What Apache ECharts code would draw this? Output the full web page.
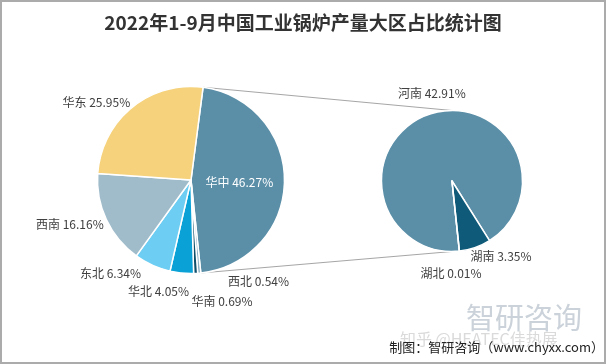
<!DOCTYPE html>
<html>
<head>
<meta charset="utf-8">
<script src="https://cdn.jsdelivr.net/npm/echarts@6/dist/echarts.min.js"></script>
<style>
html,body{margin:0;padding:0;background:#fff;}
#chart{width:606px;height:364px;}
</style>
</head>
<body>
<div id="chart"></div>
<script>
// ---- data ----
const chartTitle = '2022年1-9月中国工业锅炉产量大区占比统计图';
const regionNames = ['华中', '西北', '华南', '华北', '东北', '西南', '华东'];
const regionShares = [46.27, 0.54, 0.69, 4.05, 6.34, 16.16, 25.95];
const provinceNames = ['河南', '湖南', '湖北'];
const provinceShares = [42.91, 3.35, 0.01];
const sourceNote = '制图：智研咨询（www.chyxx.com）';

// ---- styles / layout ----
const regionColors = ['#5b8fa8', '#8fb2c4', '#0e4f6c', '#0aa2d6', '#6dcdf2', '#a0bccb', '#f5d27b'];
const provinceColors = ['#5b8fa8', '#0e5a78', '#7fb0c8'];
const LEFT = {cx: 191, cy: 180, r: 93.5, start: 82.6};
const RIGHT = {cx: 452, cy: 181, r: 70.5, start: -84};
// label anchor (left edge, vertical middle)
const LABEL_POS = [
  [[205.5, 182], [228, 281], [191.5, 301], [128, 291], [80, 273], [36, 224], [62.5, 102]],
  [[398, 93], [470.5, 256], [420.5, 273]]
];

const chart = echarts.init(document.getElementById('chart'), null, {renderer: 'canvas'});
const FONT = '"Noto Sans CJK SC", "Microsoft YaHei", sans-serif';

function pt(p, deg) {
  const a = deg * Math.PI / 180;
  return [p.cx + p.r * Math.cos(a), p.cy - p.r * Math.sin(a)];
}
const total = regionShares.reduce((a, b) => a + b, 0);
const firstSpan = regionShares[0] / total * 360;
const pA = pt(LEFT, LEFT.start);
const pB = pt(LEFT, LEFT.start - firstSpan);
const qA = [RIGHT.cx, RIGHT.cy - RIGHT.r];
const qB = [RIGHT.cx, RIGHT.cy + RIGHT.r];

function labelLayout(params) {
  const p = LABEL_POS[params.seriesIndex][params.dataIndex];
  return {x: p[0], y: p[1], align: 'left', verticalAlign: 'middle'};
}

chart.setOption({
  backgroundColor: '#fff',
  animation: false,
  title: {
    text: chartTitle,
    left: 'center',
    top: 8,
    textStyle: {fontFamily: FONT, fontSize: 19, fontWeight: 'bold', color: '#333'}
  },
  graphic: [
    {type: 'rect', shape: {x: 1, y: 1, width: 604, height: 362}, style: {fill: 'none', stroke: '#ababab', lineWidth: 2}, silent: true},
    {type: 'line', shape: {x1: pA[0], y1: pA[1], x2: qA[0], y2: qA[1]}, style: {stroke: '#a6a6a6', lineWidth: 1}, z: 0},
    {type: 'line', shape: {x1: pB[0], y1: pB[1], x2: qB[0], y2: qB[1]}, style: {stroke: '#a6a6a6', lineWidth: 1}, z: 0},
    {type: 'text', left: 466, top: 303, style: {text: '智研咨询', font: '29px ' + FONT, fill: '#cbd2d9'}, z: 0},
    {type: 'text', left: 400, top: 331, style: {text: '知乎 @HEATEC佳热展', font: '16px ' + FONT, fill: '#dadada'}, z: 0},
    {type: 'text', right: 2, top: 341, style: {text: sourceNote, font: '13px ' + FONT, fill: '#222'}, z: 10}
  ],
  series: [
    {
      type: 'pie',
      center: [LEFT.cx, LEFT.cy],
      radius: [0, LEFT.r],
      startAngle: LEFT.start,
      clockwise: true,
      avoidLabelOverlap: false,
      itemStyle: {borderColor: '#fff', borderWidth: 1.5},
      label: {show: true, position: 'outside', formatter: '{b} {c}%', fontFamily: FONT, fontSize: 12, color: '#404040'},
      labelLine: {show: false, length: 2, length2: 0},
      labelLayout: labelLayout,
      emphasis: {disabled: true},
      data: regionNames.map((n, i) => ({
        name: n, value: regionShares[i], itemStyle: {color: regionColors[i]},
        label: i === 0 ? {color: '#fff', position: 'inside'} : undefined
      }))
    },
    {
      type: 'pie',
      center: [RIGHT.cx, RIGHT.cy],
      radius: [0, RIGHT.r],
      startAngle: RIGHT.start,
      clockwise: true,
      avoidLabelOverlap: false,
      itemStyle: {borderColor: '#fff', borderWidth: 1.5},
      label: {show: true, position: 'outside', formatter: '{b} {c}%', fontFamily: FONT, fontSize: 12, color: '#404040'},
      labelLine: {show: false, length: 2, length2: 0},
      labelLayout: labelLayout,
      emphasis: {disabled: true},
      data: provinceNames.map((n, i) => ({name: n, value: provinceShares[i], itemStyle: {color: provinceColors[i]}}))
    }
  ]
});
</script>
</body>
</html>
